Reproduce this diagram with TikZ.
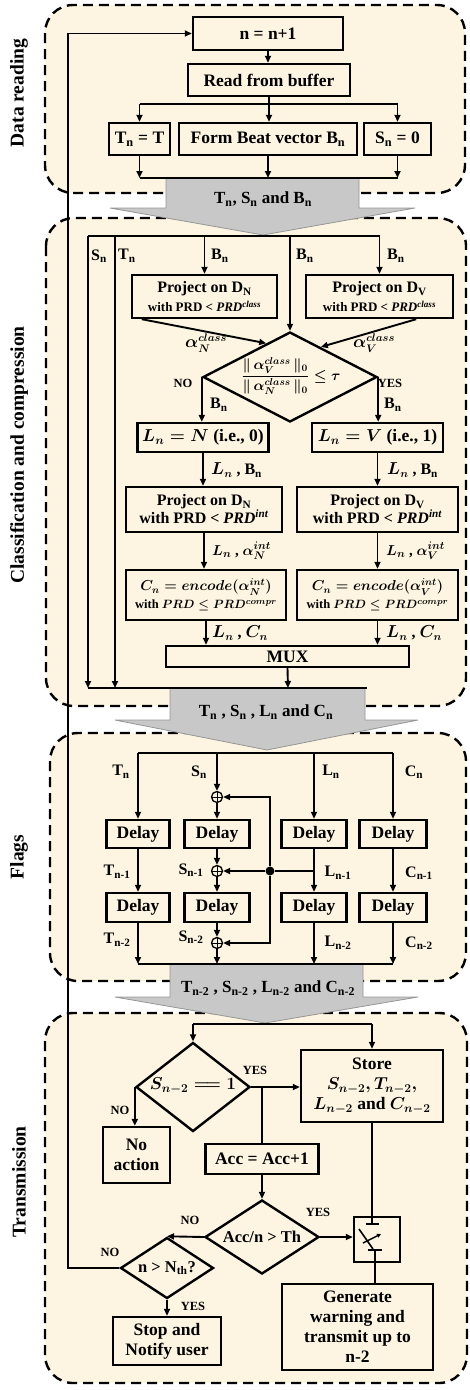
\documentclass[tikz,border=0pt]{standalone}
\usepackage{fontspec}
\setmainfont{Liberation Serif}
\usepackage{amsmath}
\usetikzlibrary{arrows.meta,shapes.geometric,calc}
\definecolor{panel}{RGB}{253,245,225}
\definecolor{garrow}{RGB}{200,200,200}
\definecolor{garrowline}{RGB}{150,150,150}
\begin{document}
\begin{tikzpicture}[x=1pt,y=-1pt,
  panelst/.style={fill=panel, draw=black, line width=2.4pt, dash pattern=on 10pt off 6pt, rounded corners=28pt},
  grayarr/.style={fill=garrow, draw=garrowline, line width=0.8pt},
  box/.style={draw, line width=2.4pt, inner sep=0pt, align=center, font=\bfseries\boldmath\fontsize{17.5}{20}\selectfont},
  dia/.style={draw, diamond, line width=2.4pt, inner sep=0pt},
  conn/.style={line width=1.9pt},
  arr/.style={conn, -{Triangle[length=7pt,width=6pt]}},
  lbl/.style={inner sep=0pt, font=\bfseries\boldmath\fontsize{16}{18}\selectfont},
  yn/.style={inner sep=0pt, font=\bfseries\fontsize{12.5}{14}\selectfont},
  sec/.style={rotate=90, inner sep=0pt, font=\bfseries\fontsize{19.5}{22}\selectfont},
  xor/.style={circle, draw, line width=1.3pt, minimum size=11pt, inner sep=0pt,
    path picture={\draw[line width=1pt] (path picture bounding box.north) -- (path picture bounding box.south) (path picture bounding box.west) -- (path picture bounding box.east);}}
]
\useasboundingbox (0,0) rectangle (470,1390);

% ---------- panels ----------
\draw[panelst] (45,5) rectangle (465,193);
\draw[panelst] (46,218) rectangle (466,706);
\draw[panelst] (50,733) rectangle (466,981);
\draw[panelst] (45,1013) rectangle (467,1383);

% ---------- section labels ----------
\node[sec] (s1) at (19,93) {Data reading};
\node[sec] (s2) at (19,455) {Classification and compression};
\node[sec] (s3) at (19,857) {Flags};
\node[sec] (s4) at (19,1182) {Transmission};

% ---------- gray transfer arrows ----------
\draw[grayarr] (166,178) -- (359,178) -- (359,208) -- (415,208) -- (263,235) -- (110,208) -- (166,208) -- cycle;
\node[lbl, font=\bfseries\fontsize{17}{19}\selectfont] (g1) at (263,199) {T\textsubscript{n}, S\textsubscript{n} and B\textsubscript{n}};
\draw[grayarr] (170,688) -- (365,688) -- (365,720) -- (418,720) -- (267,750) -- (115,720) -- (170,720) -- cycle;
\node[lbl, font=\bfseries\fontsize{17}{19}\selectfont] (g2) at (266,712) {T\textsubscript{n} , S\textsubscript{n} , L\textsubscript{n} and C\textsubscript{n}};
\draw[grayarr] (170,964) -- (363,964) -- (363,997) -- (418,997) -- (265,1023) -- (115,997) -- (170,997) -- cycle;
\node[lbl, font=\bfseries\fontsize{17}{19}\selectfont] (g3) at (268,988) {T\textsubscript{n-2} , S\textsubscript{n-2} , L\textsubscript{n-2} and C\textsubscript{n-2}};

% ---------- Data reading ----------
\node[box, minimum width=150pt, minimum height=33pt] (nn) at (268,33.5) {n = n+1};
\node[box, minimum width=162pt, minimum height=32pt] (read) at (269,80) {Read from buffer};
\node[box, minimum width=61pt, minimum height=32pt] (tn) at (139.5,139) {T\textsubscript{n} = T};
\node[box, minimum width=178pt, minimum height=32pt] (beat) at (268,139) {Form Beat vector B\textsubscript{n}};
\node[box, minimum width=67pt, minimum height=32pt] (sn) at (397.5,139) {S\textsubscript{n} = 0};
\coordinate (rb) at (269,104);
\coordinate (db) at (268,178);
\draw[arr] (nn.south) -- (nn.south |- read.north);
\draw[conn] (read.south) -- (rb);
\draw[conn] (rb -| tn) -- (rb -| sn);
\draw[arr] (rb -| tn) -- (tn.north);
\draw[arr] (rb) -- (rb |- beat.north);
\draw[arr] (rb -| sn) -- (sn.north);
\draw[conn] (tn.south |- db) -- (sn.south |- db);
\draw[arr] (tn.south) -- (tn.south |- db);
\draw[arr] (beat.south) -- (beat.south |- db);
\draw[arr] (sn.south) -- (sn.south |- db);

% ---------- Classification and compression ----------
\coordinate (cS) at (88,236);
\coordinate (cT) at (115,236);
\coordinate (cbot) at (288,688);
\coordinate (cbr) at (367,688);
\node[box, minimum width=145pt, minimum height=43pt] (pdn) at (204.5,296.5)
  {{\fontsize{16}{18}\selectfont Project on D\textsubscript{N}}\\[-1pt]{\fontsize{13}{15}\selectfont with PRD < \textit{PRD}\textsuperscript{\textit{class}}}};
\node[box, minimum width=147pt, minimum height=43pt] (pdv) at (379.5,296.5)
  {{\fontsize{16}{18}\selectfont Project on D\textsubscript{V}}\\[-1pt]{\fontsize{13}{15}\selectfont with PRD < \textit{PRD}\textsuperscript{\textit{class}}}};
\node[dia, minimum width=174pt, minimum height=90pt] (d1) at (290,377) {};
\node[lbl, font=\boldmath\fontsize{14}{16}\selectfont] (d1t) at (291,376)
  {$\dfrac{\|\,\alpha_V^{class}\,\|_0}{\|\,\alpha_N^{class}\,\|_0}\le\tau$};
\node[box, minimum width=131pt, minimum height=29pt] (lnn) at (203,437.5) {$L_n = N$ (i.e., 0)};
\node[box, minimum width=131pt, minimum height=29pt] (lnv) at (377.5,437.5) {$L_n = V$ (i.e., 1)};
\node[box, minimum width=156pt, minimum height=45pt, font=\bfseries\boldmath\fontsize{16}{18}\selectfont] (pin) at (204,509.5)
  {Project on D\textsubscript{N}\\with PRD < \textit{PRD}\textsuperscript{\textit{int}}};
\node[box, minimum width=161pt, minimum height=45pt, font=\bfseries\boldmath\fontsize{16}{18}\selectfont] (piv) at (377.5,509.5)
  {Project on D\textsubscript{V}\\with PRD < \textit{PRD}\textsuperscript{\textit{int}}};
\node[box, minimum width=160pt, minimum height=50pt, font=\bfseries\boldmath\fontsize{14}{18}\selectfont] (enn) at (206,595)
  {$C_n = encode(\alpha_N^{int})$\\{\fontsize{12.5}{15}\selectfont with $PRD \le PRD^{compr}$}};
\node[box, minimum width=161pt, minimum height=50pt, font=\bfseries\boldmath\fontsize{14}{18}\selectfont] (env) at (377.5,595)
  {$C_n = encode(\alpha_V^{int})$\\{\fontsize{12.5}{15}\selectfont with $PRD \le PRD^{compr}$}};
\node[box, minimum width=243pt, minimum height=21pt] (mux) at (287.5,656.5) {MUX};

\draw[conn] (cS) -- (cS -| pdv);
\draw[arr] (cS) -- (cS |- cbot);
\draw[arr] (cT) -- (cT |- cbot);
\draw[arr] (cS -| pdn) -- (pdn.north);
\draw[arr] (cS -| d1) -- (d1.north);
\draw[arr] (cS -| pdv) -- (pdv.north);
\draw[arr] ($(pdn.south west)+(11,0)$) -- ($(d1.north)!0.27!(d1.west)$);
\draw[arr] ($(pdv.south east)+(-38,0)$) -- ($(d1.north)!0.35!(d1.east)$);
\draw[arr] (d1.west) -- (d1.west |- lnn.north);
\draw[arr] (d1.east) -- (d1.east |- lnv.north);
\draw[arr] (lnn.south) -- (lnn.south |- pin.north);
\draw[arr] (lnv.south) -- (lnv.south |- piv.north);
\draw[arr] (pin.south) -- (pin.south |- enn.north);
\draw[arr] (piv.south) -- (piv.south |- env.north);
\draw[arr] (enn.south) -- (enn.south |- mux.north);
\draw[arr] (env.south) -- (env.south |- mux.north);
\draw[arr] (mux.south) -- (cbot);
\draw[conn] (cS |- cbot) -- (cbr);

\node[lbl, anchor=west] (lS) at (91,256) {S\textsubscript{n}};
\node[lbl, anchor=west] (lT) at (118,256) {T\textsubscript{n}};
\node[lbl, anchor=west] (lB1) at (211,256) {B\textsubscript{n}};
\node[lbl, anchor=west] (lB2) at (296,256) {B\textsubscript{n}};
\node[lbl, anchor=west] (lB3) at (387,256) {B\textsubscript{n}};
\node[lbl] (aN) at (206,343) {$\alpha_N^{class}$};
\node[lbl] (aV) at (374,343) {$\alpha_V^{class}$};
\node[yn] (no1) at (183,383) {NO};
\node[yn] (yes1) at (390,383) {YES};
\node[lbl, anchor=west] (lB4) at (210,405) {B\textsubscript{n}};
\node[lbl, anchor=west] (lB5) at (384,405) {B\textsubscript{n}};
\node[lbl, anchor=west] (lLB1) at (211,470) {$L_n$ , B\textsubscript{n}};
\node[lbl, anchor=west] (lLB2) at (387,470) {$L_n$ , B\textsubscript{n}};
\node[lbl, anchor=west, font=\bfseries\boldmath\fontsize{15}{17}\selectfont] (lLa1) at (212,551) {$L_n$ , $\alpha_N^{int}$};
\node[lbl, anchor=west, font=\bfseries\boldmath\fontsize{15}{17}\selectfont] (lLa2) at (386,551) {$L_n$ , $\alpha_V^{int}$};
\node[lbl, anchor=west] (lLC1) at (212,633) {$L_n$ , $C_n$};
\node[lbl, anchor=west] (lLC2) at (386,633) {$L_n$ , $C_n$};

% ---------- Flags ----------
\coordinate (fT) at (138,753);
\coordinate (fb) at (265,964);
\node[box, minimum width=63pt, minimum height=28pt] (dt1) at (138,834) {Delay};
\node[box, minimum width=65pt, minimum height=28pt] (ds1) at (217,834) {Delay};
\node[box, minimum width=65pt, minimum height=28pt] (dl1) at (314,834) {Delay};
\node[box, minimum width=67pt, minimum height=28pt] (dc1) at (393,834) {Delay};
\node[box, minimum width=63pt, minimum height=29pt] (dt2) at (138,907.5) {Delay};
\node[box, minimum width=65pt, minimum height=29pt] (ds2) at (217,907.5) {Delay};
\node[box, minimum width=65pt, minimum height=29pt] (dl2) at (314,907.5) {Delay};
\node[box, minimum width=67pt, minimum height=29pt] (dc2) at (393,907.5) {Delay};
\node[xor] (x1) at (217,797) {};
\node[xor] (x2) at (217,871) {};
\node[xor] (x3) at (217,943) {};
\node[circle, fill, inner sep=0pt, minimum size=9pt] (dot) at (270,871) {};

\draw[conn] (fT) -- (fT -| dc1);
\draw[arr] (fT) -- (dt1.north);
\draw[arr] (fT -| ds1) -- (x1.north);
\draw[arr] (fT -| dl1) -- (dl1.north);
\draw[arr] (fT -| dc1) -- (dc1.north);
\draw[arr] (x1.south) -- (ds1.north);
\draw[arr] (ds1.south) -- (x2.north);
\draw[arr] (x2.south) -- (ds2.north);
\draw[arr] (ds2.south) -- (x3.north);
\draw[arr] (x3.south) -- (x3.south |- fb);
\draw[arr] (dt1.south) -- (dt2.north);
\draw[arr] (dl1.south) -- (dl2.north);
\draw[arr] (dc1.south) -- (dc2.north);
\draw[arr] (dt2.south) -- (dt2.south |- fb);
\draw[arr] (dl2.south) -- (dl2.south |- fb);
\draw[arr] (dc2.south) -- (dc2.south |- fb);
\draw[conn] (dt2.south |- fb) -- (dc2.south |- fb);
\draw[conn] (dl1.south |- dot) -- (dot);
\draw[arr] (dot) -- (x2.east);
\draw[arr] (dot) |- (x1.east);
\draw[arr] (dot) |- (x3.east);

\node[lbl] (fTn) at (121,772) {T\textsubscript{n}};
\node[lbl] (fSn) at (199,772) {S\textsubscript{n}};
\node[lbl] (fLn) at (331,772) {L\textsubscript{n}};
\node[lbl] (fCn) at (414,772) {C\textsubscript{n}};
\node[lbl] (fT1) at (117,872) {T\textsubscript{n-1}};
\node[lbl] (fT2) at (117,940) {T\textsubscript{n-2}};
\node[lbl] (fS1) at (191,870) {S\textsubscript{n-1}};
\node[lbl] (fS2) at (191,937) {S\textsubscript{n-2}};
\node[lbl] (fL1) at (338,873) {L\textsubscript{n-1}};
\node[lbl] (fL2) at (338,943) {L\textsubscript{n-2}};
\node[lbl] (fC1) at (419,873) {C\textsubscript{n-1}};
\node[lbl] (fC2) at (419,943) {C\textsubscript{n-2}};

% ---------- Transmission ----------
\coordinate (tt) at (265,1024);
\coordinate (lx) at (68,600);
\coordinate (swt) at (372,1224);
\coordinate (swb) at (375,1250);
\node[dia, minimum width=114pt, minimum height=89pt] (d2) at (193,1087) {};
\node[lbl, font=\boldmath\fontsize{16.5}{18}\selectfont] (d2t) at (193,1086) {$S_{n-2}\mathrel{=\!=}1$};
\node[box, minimum width=142pt, minimum height=72pt] (store) at (372,1086)
  {Store\\$S_{n-2},T_{n-2},$\\$L_{n-2}$ and $C_{n-2}$};
\node[box, minimum width=67pt, minimum height=56pt] (noact) at (136.5,1155) {No\\action};
\node[box, minimum width=113pt, minimum height=30pt] (acc) at (262,1159) {Acc = Acc+1};
\node[dia, minimum width=114pt, minimum height=74pt] (d3) at (262,1237) {};
\node[lbl, font=\bfseries\fontsize{16.5}{18}\selectfont] (d3t) at (262,1237) {Acc/n > Th};
\node[box, minimum width=46pt, minimum height=45pt] (sw) at (377,1239.5) {};
\node[dia, minimum width=93pt, minimum height=61pt] (d4) at (167,1268) {};
\node[lbl, font=\bfseries\fontsize{16.5}{18}\selectfont] (d4t) at (167,1268) {n > N\textsubscript{th}?};
\node[box, minimum width=108pt, minimum height=48pt] (stop) at (167,1341) {Stop and\\Notify user};
\node[box, minimum width=151pt, minimum height=86pt] (gen) at (357.5,1327) {Generate\\warning and\\transmit up to\\n-2};

\draw[conn] (d2.north |- tt) -- (store.north |- tt);
\draw[arr] (d2.north |- tt) -- (d2.north);
\draw[arr] (store.north |- tt) -- (store.north);
\draw[arr] (d2.east) -- (d2.east -| store.west);
\draw[conn] (d2.east -| acc.north) -- (acc.north);
\draw[arr] (d2.west) -- (d2.west |- noact.north);
\draw[arr] (acc.south) -- (d3.north);
\draw[arr] (d3.east) -- (d3.east -| sw.west);
\draw[arr] (d3.west) -- (d4.north);
\draw[arr] (d4.south) -- (stop.north);
\draw[arr] (d4.west) -| (lx) |- (nn.west);
\draw[conn] (store.south) -- (swt);
\draw[conn] (gen.north -| swb) -- (swb);
% switch symbol
\draw[line width=2pt] (366,1224) -- (379,1224);
\draw[line width=2pt] (368,1250) -- (382,1250);
\draw[line width=1.6pt] (373,1249) -- (359,1229);
\draw[line width=1.4pt, -{Triangle[length=4pt,width=4pt]}] (363,1243) -- (381,1234);

\node[yn] (yes2) at (255,1070) {YES};
\node[yn] (no2) at (120,1110) {NO};
\node[yn] (yes3) at (318,1212) {YES};
\node[yn] (no3) at (190,1220) {NO};
\node[yn] (no4) at (110,1252) {NO};
\node[yn] (yes4) at (193,1306) {YES};
\end{tikzpicture}
\end{document}
